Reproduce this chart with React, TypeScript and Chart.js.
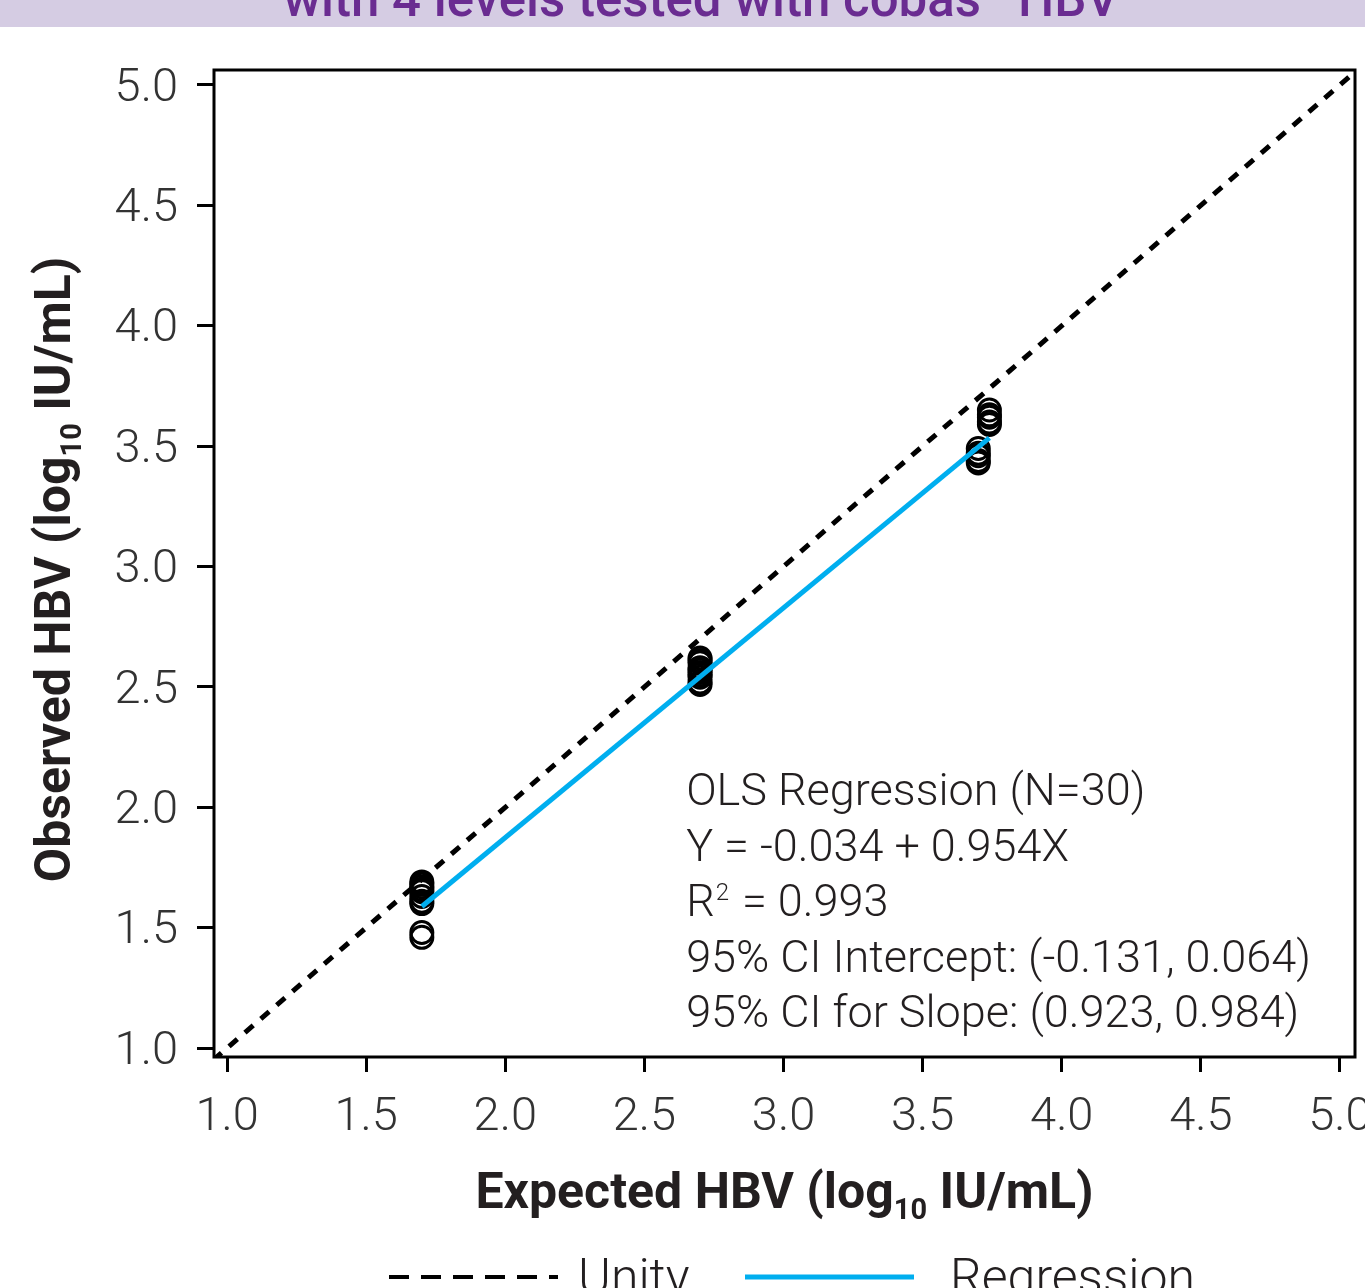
import React, { useEffect, useRef } from "react";
import { Chart, registerables } from "chart.js";

Chart.register(...registerables);

// ---- data ----
const expectedValues = [
  1.7, 1.7, 1.7, 1.7, 1.7, 1.7, 1.7, 1.7, 1.7, 1.7,
  2.7, 2.7, 2.7, 2.7, 2.7, 2.7, 2.7, 2.7, 2.7, 2.7,
  3.74, 3.74, 3.74, 3.74, 3.74, 3.7, 3.7, 3.7, 3.7, 3.7,
];
const observedValues = [
  1.69, 1.68, 1.67, 1.66, 1.65, 1.63, 1.61, 1.6, 1.48, 1.46,
  2.62, 2.61, 2.6, 2.58, 2.57, 2.56, 2.55, 2.54, 2.52, 2.51,
  3.65, 3.63, 3.62, 3.6, 3.59, 3.49, 3.47, 3.46, 3.44, 3.43,
];
const unityX = [0.95, 5.06];
const unityY = [0.95, 5.06];
const regressionX = [1.7, 3.74];
const regressionY = [1.588, 3.534];
const xTickValues = [1.0, 1.5, 2.0, 2.5, 3.0, 3.5, 4.0, 4.5, 5.0];
const yTickValues = [1.0, 1.5, 2.0, 2.5, 3.0, 3.5, 4.0, 4.5, 5.0];
const annotationLines = [
  "OLS Regression (N=30)",
  "Y = -0.034 + 0.954X",
  "R|2| = 0.993",
  "95% CI Intercept: (-0.131, 0.064)",
  "95% CI for Slope: (0.923, 0.984)",
];
const titleText = ["with 4 levels tested with cobas", "®", " HBV"];
const xTitle = ["Expected HBV (log", "10", " IU/mL)"];
const yTitle = ["Observed HBV (log", "10", " IU/mL)"];
const legendLabels = ["Unity", "Regression"];

const TEXT = "#231f20";
const BLUE = "#00aeef";
const FONT = "Roboto";

function drawSubText(ctx: CanvasRenderingContext2D, parts: string[], x: number, y: number, size: number, weight: string, align: "center" | "left") {
  const main = `${weight} ${size}px ${FONT}`;
  const sub = `${weight} ${Math.round(size * 0.58)}px ${FONT}`;
  ctx.font = main;
  const w0 = ctx.measureText(parts[0]).width;
  const w2 = ctx.measureText(parts[2]).width;
  ctx.font = sub;
  const w1 = ctx.measureText(parts[1]).width;
  const total = w0 + w1 + w2;
  let sx = align === "center" ? x - total / 2 : x;
  ctx.textAlign = "left";
  ctx.textBaseline = "alphabetic";
  ctx.font = main;
  ctx.fillText(parts[0], sx, y);
  ctx.font = sub;
  ctx.fillText(parts[1], sx + w0, y + size * 0.22);
  ctx.font = main;
  ctx.fillText(parts[2], sx + w0 + w1, y);
}

const decorPlugin = {
  id: "decor",
  beforeDraw(chart: any) {
    const ctx = chart.ctx as CanvasRenderingContext2D;
    ctx.save();
    ctx.fillStyle = "#fff";
    ctx.fillRect(0, 0, chart.width, chart.height);
    // top banner
    ctx.fillStyle = "#d5cce3";
    ctx.fillRect(0, 0, chart.width, 27);
    ctx.fillStyle = "#6a2c91";
    ctx.textBaseline = "alphabetic";
    ctx.textAlign = "left";
    const big = `500 51px ${FONT}`;
    const small = `500 26px ${FONT}`;
    ctx.font = big;
    const w0 = ctx.measureText(titleText[0]).width;
    const w2 = ctx.measureText(titleText[2]).width;
    ctx.font = small;
    const w1 = ctx.measureText(titleText[1]).width;
    const sx = 699 - (w0 + w1 + w2) / 2;
    ctx.font = big;
    ctx.fillText(titleText[0], sx, 16);
    ctx.font = small;
    ctx.fillText(titleText[1], sx + w0 + 2, -2);
    ctx.font = big;
    ctx.fillText(titleText[2], sx + w0 + w1 + 4, 16);
    ctx.restore();
  },
  afterDraw(chart: any) {
    const ctx = chart.ctx as CanvasRenderingContext2D;
    const a = chart.chartArea;
    ctx.save();
    // frame
    ctx.strokeStyle = "#000";
    ctx.lineWidth = 3;
    ctx.strokeRect(a.left, a.top, a.right - a.left, a.bottom - a.top);

    // annotation
    ctx.fillStyle = TEXT;
    ctx.textAlign = "left";
    ctx.textBaseline = "alphabetic";
    const ax = chart.scales.x.getPixelForValue(2.65);
    annotationLines.forEach((line, i) => {
      const y = 805 + i * 55.5;
      const parts = line.split("|");
      ctx.font = `300 45px ${FONT}`;
      if (parts.length === 3) {
        ctx.fillText(parts[0], ax, y);
        const w = ctx.measureText(parts[0]).width;
        ctx.font = `300 24px ${FONT}`;
        ctx.fillText(parts[1], ax + w + 1, y - 16);
        const w1 = ctx.measureText(parts[1]).width;
        ctx.font = `300 45px ${FONT}`;
        ctx.fillText(parts[2], ax + w + w1 + 3, y);
      } else {
        ctx.fillText(line, ax, y);
      }
    });

    // axis titles
    ctx.fillStyle = TEXT;
    drawSubText(ctx, xTitle, (a.left + a.right) / 2, 1208, 50, "700", "center");
    ctx.save();
    ctx.translate(70, (a.top + a.bottom) / 2 + 6);
    ctx.rotate(-Math.PI / 2);
    drawSubText(ctx, yTitle, 0, 0, 50, "700", "center");
    ctx.restore();

    // legend
    const ly = 1277;
    ctx.strokeStyle = "#000";
    ctx.lineWidth = 4;
    ctx.setLineDash([20, 12]);
    ctx.beginPath();
    ctx.moveTo(389, ly);
    ctx.lineTo(558, ly);
    ctx.stroke();
    ctx.setLineDash([]);
    ctx.strokeStyle = BLUE;
    ctx.lineWidth = 5;
    ctx.beginPath();
    ctx.moveTo(745, ly);
    ctx.lineTo(914, ly);
    ctx.stroke();
    ctx.fillStyle = TEXT;
    ctx.font = `300 50px ${FONT}`;
    ctx.fillText(legendLabels[0], 578, 1294);
    ctx.fillText(legendLabels[1], 950, 1294);
    ctx.restore();
  },
};

export default function App() {
  const ref = useRef<HTMLCanvasElement>(null);
  useEffect(() => {
    document.body.style.margin = "0";
    const canvas = ref.current!;
    const chart = new Chart(canvas, {
      type: "scatter",
      data: {
        datasets: [
          {
            type: "line",
            label: legendLabels[0],
            data: unityX.map((x, i) => ({ x, y: unityY[i] })),
            borderColor: "#000",
            borderWidth: 5,
            borderDash: [11, 10],
            pointRadius: 0,
            order: 2,
          } as any,
          {
            type: "line",
            label: legendLabels[1],
            data: regressionX.map((x, i) => ({ x, y: regressionY[i] })),
            borderColor: BLUE,
            borderWidth: 5,
            pointRadius: 0,
            order: 1,
          } as any,
          {
            type: "scatter",
            label: "Observed",
            data: expectedValues.map((x, i) => ({ x, y: observedValues[i] })),
            borderColor: "#000",
            backgroundColor: "rgba(0,0,0,0)",
            borderWidth: 3,
            pointRadius: 11,
            order: 3,
          },
        ],
      },
      options: {
        animation: false,
        responsive: false,
        layout: { padding: { top: 70, right: 10, left: 0, bottom: 0 }, autoPadding: false } as any,
        plugins: { legend: { display: false }, tooltip: { enabled: false } },
        scales: {
          x: {
            type: "linear",
            min: 0.953,
            max: 5.054,
            afterBuildTicks: (s: any) => {
              s.ticks = xTickValues.map((v) => ({ value: v }));
            },
            afterFit: (s: any) => {
              s.height = 231;
              s.paddingLeft = 0;
              s.paddingRight = 0;
            },
            grid: { drawOnChartArea: false, drawTicks: true, tickLength: 15, color: "#000", lineWidth: 3 },
            border: { display: false },
            ticks: {
              color: "#333",
              font: { family: FONT, size: 47, weight: "300" as any },
              padding: 18,
              maxRotation: 0,
              autoSkip: false,
              callback: (v: any) => Number(v).toFixed(1),
            },
          },
          y: {
            type: "linear",
            min: 0.963,
            max: 5.062,
            afterBuildTicks: (s: any) => {
              s.ticks = yTickValues.map((v) => ({ value: v }));
            },
            afterFit: (s: any) => {
              s.width = 214;
              s.paddingTop = 0;
              s.paddingBottom = 0;
            },
            grid: { drawOnChartArea: false, drawTicks: true, tickLength: 17, color: "#000", lineWidth: 3 },
            border: { display: false },
            ticks: {
              color: "#333",
              font: { family: FONT, size: 47, weight: "300" as any },
              padding: 19,
              labelOffset: 4,
              autoSkip: false,
              callback: (v: any) => Number(v).toFixed(1),
            },
          },
        },
      },
      plugins: [decorPlugin],
    });
    return () => chart.destroy();
  }, []);
  return <canvas ref={ref} width={1365} height={1288} style={{ display: "block" }} />;
}
